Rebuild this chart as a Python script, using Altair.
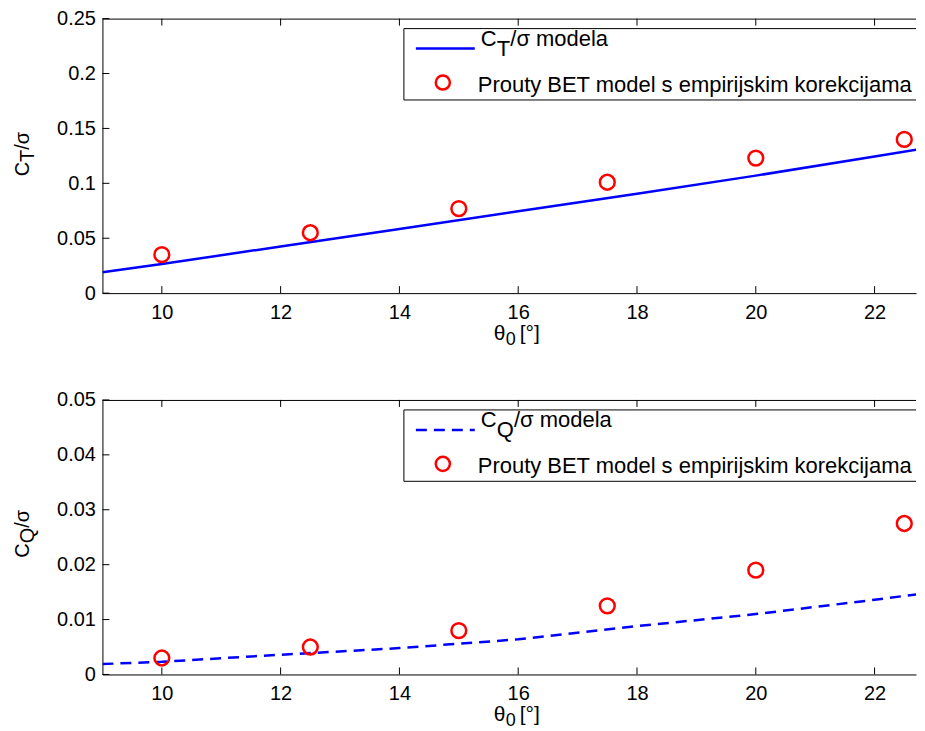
import altair as alt
import pandas as pd

# ---- data ----
theta_pts = [10, 12.5, 15, 17.5, 20, 22.5]
ct_prouty = [0.035, 0.055, 0.077, 0.101, 0.123, 0.140]
cq_prouty = [0.003, 0.005, 0.008, 0.0125, 0.019, 0.0275]

theta_line = [9, 10, 12, 14, 16, 18, 20, 22, 22.85]
ct_model = [0.019, 0.0265, 0.0425, 0.0585, 0.0745, 0.0905, 0.107, 0.1245, 0.132]
cq_model = [0.0019, 0.0023, 0.0036, 0.0048, 0.0064, 0.0088, 0.0110, 0.0136, 0.0148]

x_ticks = [10, 12, 14, 16, 18, 20, 22]
ct_ticks = [0, 0.05, 0.1, 0.15, 0.2, 0.25]
cq_ticks = [0, 0.01, 0.02, 0.03, 0.04, 0.05]

W, H = 815, 275
X_DOMAIN = [9, 9 + W / 59.5]
FONT = "Liberation Sans"
BLUE = "#0000ff"
RED = "#ff0000"


def txt(s, x, y, size, angle=0):
    return alt.Chart(pd.DataFrame({"s": [s]})).mark_text(
        text=s, font=FONT, fontSize=size, align="left", baseline="alphabetic",
        angle=angle, color="black"
    ).encode(x=alt.value(x), y=alt.value(y))


def panel(model_vals, pts_vals, y_ticks, y_max, dashed, sub):
    xs = alt.Scale(domain=X_DOMAIN, nice=False, zero=False)
    ys = alt.Scale(domain=[0, y_max], nice=False, zero=False)
    line_df = pd.DataFrame({"x": theta_line, "y": model_vals})
    pts_df = pd.DataFrame({"x": theta_pts, "y": pts_vals})
    dash = {"strokeDash": [11, 7]} if dashed else {}

    line = alt.Chart(line_df).mark_line(
        color=BLUE, strokeWidth=2.5, clip=True, **dash
    ).encode(
        x=alt.X("x:Q", scale=xs, axis=alt.Axis(
            values=x_ticks, title=None, format="~g", labelPadding=9,
            labelFlush=False, labelOverlap=False)),
        y=alt.Y("y:Q", scale=ys, axis=alt.Axis(
            values=y_ticks, title=None, format="~g", labelPadding=7,
            labelFlush=False, labelOverlap=False)),
    )
    pts = alt.Chart(pts_df).mark_point(
        shape="circle", size=220, color=RED, strokeWidth=2.5, filled=False,
        opacity=1,
    ).encode(x=alt.X("x:Q", scale=xs), y=alt.Y("y:Q", scale=ys))

    xt = pd.DataFrame({"x": x_ticks})
    yt = pd.DataFrame({"y": y_ticks})
    xtick_b = alt.Chart(xt).mark_rule(color="black", strokeWidth=1).encode(
        x=alt.X("x:Q", scale=xs), y=alt.value(H), y2=alt.value(H - 7))
    xtick_t = alt.Chart(xt).mark_rule(color="black", strokeWidth=1).encode(
        x=alt.X("x:Q", scale=xs), y=alt.value(0), y2=alt.value(7))
    ytick_l = alt.Chart(yt).mark_rule(color="black", strokeWidth=1).encode(
        y=alt.Y("y:Q", scale=ys), x=alt.value(0), x2=alt.value(7))
    top_border = alt.Chart(pd.DataFrame({"a": [0]})).mark_rule(
        color="black", strokeWidth=1).encode(
        x=alt.value(0), x2=alt.value(W), y=alt.value(0.5))

    # legend
    leg_box = alt.Chart(pd.DataFrame({"a": [0]})).mark_rect(
        fill="white", stroke="black", strokeWidth=1, clip=True).encode(
        x=alt.value(302), x2=alt.value(W + 60), y=alt.value(10), y2=alt.value(81.5))
    leg_line = alt.Chart(pd.DataFrame({"a": [0]})).mark_rule(
        color=BLUE, strokeWidth=2.5, **dash).encode(
        x=alt.value(314), x2=alt.value(373), y=alt.value(30))
    leg_pt = alt.Chart(pd.DataFrame({"a": [0]})).mark_point(
        shape="circle", size=200, color=RED, strokeWidth=2.5, filled=False,
        opacity=1).encode(x=alt.value(341), y=alt.value(64))
    LF = 22
    sub_w = 13.6 if sub == "T" else 17.3
    leg_t1a = txt("C", 379, 27.5, LF)
    leg_t1b = txt(sub, 395, 37.5, LF)
    leg_t1c = txt("/σ modela", 395 + sub_w, 27.5, LF)
    leg_t2 = txt("Prouty BET model s empirijskim korekcijama", 376, 73.5, LF)

    # axis titles with subscripts
    TF = 20
    ysub_w = 12.2 if sub == "T" else 15.6
    yl_a = txt("C", -74, 158, TF, 270)
    yl_b = txt(sub, -69, 143.6, TF, 270)
    yl_c = txt("/σ", -74, 143.6 - ysub_w, TF, 270)
    xl_a = txt("θ", 392, 321.5, 21)
    xl_b = txt("0", 404, 326.5, 18)
    xl_c = txt("[°]", 418, 321.5, 21)

    return alt.layer(
        line, pts, xtick_b, xtick_t, ytick_l, top_border,
        leg_box, leg_line, leg_pt, leg_t1a, leg_t1b, leg_t1c, leg_t2,
        yl_a, yl_b, yl_c, xl_a, xl_b, xl_c,
    ).properties(width=W, height=H)


top = panel(ct_model, ct_prouty, ct_ticks, 0.25, False, "T")
bottom = panel(cq_model, cq_prouty, cq_ticks, 0.05, True, "Q")

chart = alt.vconcat(top, bottom, spacing=107, bounds="flush").properties(
    padding={"left": 3.6, "top": 0, "right": 0, "bottom": 0}
).configure_view(strokeWidth=0).configure_axis(
    labelFont=FONT, labelFontSize=20, labelColor="black",
    domainColor="black", domainWidth=1, ticks=False, tickSize=0, grid=False,
)

chart.save("out.html", embed_options={"renderer": "svg", "actions": False})
